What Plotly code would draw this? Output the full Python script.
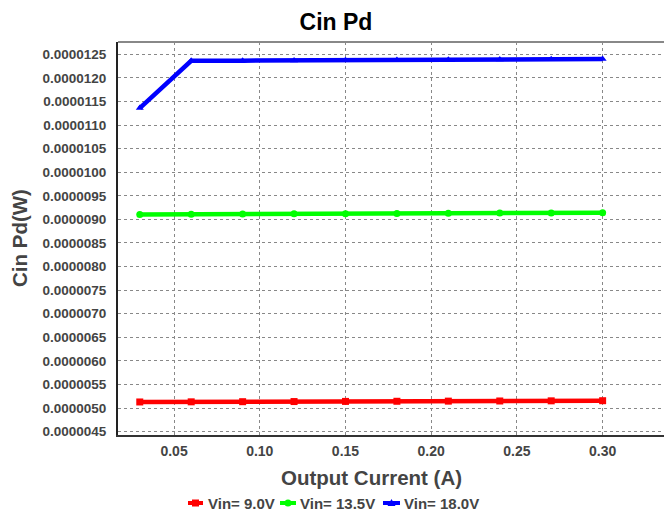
import plotly.graph_objects as go

x_current = [0.03, 0.06, 0.09, 0.12, 0.15, 0.18, 0.21, 0.24, 0.27, 0.30]
vin_9_0 = [5.130e-6, 5.133e-6, 5.136e-6, 5.139e-6, 5.142e-6, 5.145e-6, 5.148e-6, 5.151e-6, 5.154e-6, 5.157e-6]
vin_13_5 = [9.105e-6, 9.110e-6, 9.114e-6, 9.118e-6, 9.122e-6, 9.126e-6, 9.130e-6, 9.134e-6, 9.138e-6, 9.142e-6]
vin_18_0 = [11.36e-6, 12.36e-6, 12.365e-6, 12.37e-6, 12.375e-6, 12.38e-6, 12.385e-6, 12.39e-6, 12.395e-6, 12.40e-6]
series_names = ["Vin= 9.0V", "Vin= 13.5V", "Vin= 18.0V"]
y_ticks = [4.5e-6 + i * 0.5e-6 for i in range(17)]
x_ticks = [0.05, 0.10, 0.15, 0.20, 0.25, 0.30]

colors = ["#ff0000", "#00ff00", "#0000ff"]
symbols = ["square", "circle", "triangle-up"]

W, H = 664, 513
L, R, T, B = 118, 0, 42, 78
pw, ph = W - L - R, H - T - B


def px(xp):
    return (xp - L) / pw


def py(yp):
    return (H - B - yp) / ph


fig = go.Figure()
for name, ys, c, s in zip(series_names, [vin_9_0, vin_13_5, vin_18_0], colors, symbols):
    fig.add_trace(go.Scatter(
        x=x_current, y=ys, name=name, mode="lines+markers",
        line=dict(color=c, width=4.5),
        marker=dict(color=c, symbol=s, size=7),
        showlegend=False,
    ))

font_family = "Liberation Sans, Arial, sans-serif"
fig.update_layout(
    width=W, height=H,
    margin=dict(l=L, r=R, t=T, b=B),
    paper_bgcolor="white", plot_bgcolor="white",
    title=dict(text="<b>Cin Pd</b>", x=336 / W, xanchor="center", y=1 - 22 / H, yanchor="middle",
               font=dict(family=font_family, size=23, color="#000000")),
    font=dict(family=font_family, color="#444444"),
    showlegend=False,
    xaxis=dict(
        range=[0.0173, 0.3358],
        tickvals=x_ticks, tickformat=".2f",
        tickfont=dict(family=font_family, size=14, color="#444444", weight="bold"),
        ticklabelstandoff=2,
        showgrid=True, gridcolor="#888888", griddash="dot", gridwidth=1,
        showline=True, linecolor="#333333", linewidth=2,
        zeroline=False, ticks="", ticklen=0,
    ),
    yaxis=dict(
        range=[4.43e-6, 12.76e-6],
        tickvals=y_ticks, tickformat=".7f",
        tickfont=dict(family=font_family, size=13.5, color="#444444", weight="bold"),
        showgrid=True, gridcolor="#888888", griddash="dot", gridwidth=1,
        showline=True, linecolor="#222222", linewidth=2,
        zeroline=False, ticks="outside", ticklen=7, tickcolor="rgba(0,0,0,0)",
    ),
)
fig.add_shape(type="line", xref="paper", yref="paper", x0=0, x1=1, y0=1, y1=1,
              line=dict(color="#888888", width=2))

# axis titles
fig.add_annotation(text="<b>Output Current (A)</b>", xref="paper", yref="paper",
                   x=px(371), y=py(477), xanchor="center", yanchor="middle", showarrow=False,
                   font=dict(family=font_family, size=20.5, color="#444444"))
fig.add_annotation(text="<b>Cin Pd(W)</b>", xref="paper", yref="paper", textangle=-90,
                   x=px(19), y=py(238), xanchor="center", yanchor="middle", showarrow=False,
                   font=dict(family=font_family, size=20.5, color="#444444"))

# custom legend
leg_y = 503
leg_items = [(188, 203, 206), (280, 296, 298), (383, 400, 402)]
for (x0, x1, xt), name, c, s in zip(leg_items, series_names, colors, symbols):
    fig.add_shape(type="line", xref="paper", yref="paper", x0=px(x0), x1=px(x1),
                  y0=py(leg_y), y1=py(leg_y), line=dict(color=c, width=4))
    xm = (x0 + x1) / 2
    if s == "square":
        fig.add_shape(type="rect", xref="paper", yref="paper", x0=px(xm - 3.5), x1=px(xm + 3.5),
                      y0=py(leg_y + 3.5), y1=py(leg_y - 3.5), fillcolor=c, line=dict(width=0))
    elif s == "circle":
        fig.add_shape(type="circle", xref="paper", yref="paper", x0=px(xm - 3.5), x1=px(xm + 3.5),
                      y0=py(leg_y + 3.5), y1=py(leg_y - 3.5), fillcolor=c, line=dict(width=0))
    else:
        fig.add_shape(type="path", xref="paper", yref="paper",
                      path=f"M {px(xm - 4)} {py(leg_y + 3)} L {px(xm + 4)} {py(leg_y + 3)} L {px(xm)} {py(leg_y - 4)} Z",
                      fillcolor=c, line=dict(width=0))
    fig.add_annotation(text=f"<b>{name}</b>", xref="paper", yref="paper",
                       x=px(xt), y=py(leg_y), xanchor="left", yanchor="middle", showarrow=False,
                       font=dict(family=font_family, size=15, color="#444444"))

fig.write_html("out.html")
